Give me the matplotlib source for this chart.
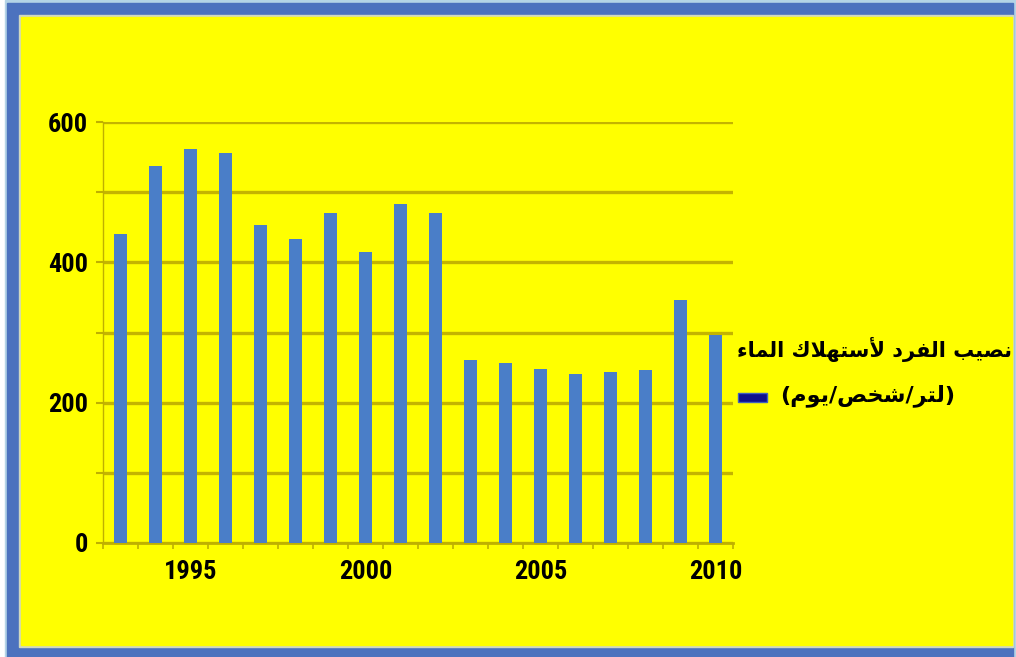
import matplotlib
matplotlib.use('Agg')
import matplotlib.pyplot as plt
import matplotlib.patches as mpatches
import numpy as np

# datos
years = list(range(1993, 2011))
consumo = [440, 538, 561, 556, 453, 433, 470, 415, 483, 470,
           261, 256, 248, 241, 244, 247, 347, 297]
year_labels = ['1995', '2000', '2005', '2010']
y_ticks = [0, 100, 200, 300, 400, 500, 600]
y_labels = ['0', '', '200', '', '400', '', '600']
legend_line1 = 'نصيب الفرد لأستهلاك الماء'
legend_line2 = '(لتر/شخص/يوم)'

W, H = 1016, 657

# formas contextuales arabes: (aislada, final, inicial, media)
FORMS = {
    'ا': ('\uFE8D', '\uFE8E'), 'أ': ('\uFE83', '\uFE84'),
    'د': ('\uFEA9', '\uFEAA'), 'ر': ('\uFEAD', '\uFEAE'),
    'و': ('\uFEED', '\uFEEE'), 'ء': ('\uFE80',),
    'ب': ('\uFE8F', '\uFE90', '\uFE91', '\uFE92'),
    'ت': ('\uFE95', '\uFE96', '\uFE97', '\uFE98'),
    'خ': ('\uFEA5', '\uFEA6', '\uFEA7', '\uFEA8'),
    'س': ('\uFEB1', '\uFEB2', '\uFEB3', '\uFEB4'),
    'ش': ('\uFEB5', '\uFEB6', '\uFEB7', '\uFEB8'),
    'ص': ('\uFEB9', '\uFEBA', '\uFEBB', '\uFEBC'),
    'ف': ('\uFED1', '\uFED2', '\uFED3', '\uFED4'),
    'ك': ('\uFED9', '\uFEDA', '\uFEDB', '\uFEDC'),
    'ل': ('\uFEDD', '\uFEDE', '\uFEDF', '\uFEE0'),
    'م': ('\uFEE1', '\uFEE2', '\uFEE3', '\uFEE4'),
    'ن': ('\uFEE5', '\uFEE6', '\uFEE7', '\uFEE8'),
    'ه': ('\uFEE9', '\uFEEA', '\uFEEB', '\uFEEC'),
    'ي': ('\uFEF1', '\uFEF2', '\uFEF3', '\uFEF4'),
}
LIG = {'لا': ('\uFEFB', '\uFEFC'), 'لأ': ('\uFEF7', '\uFEF8')}


def shape(text):
    tokens = []
    i = 0
    while i < len(text):
        if text[i] == 'ل' and i + 1 < len(text) and text[i:i+2] in LIG:
            tokens.append(text[i:i+2])
            i += 2
        else:
            tokens.append(text[i])
            i += 1
    res = []
    for k, t in enumerate(tokens):
        prev = tokens[k-1] if k > 0 else None
        nxt = tokens[k+1] if k + 1 < len(tokens) else None
        prev_j = prev in FORMS and len(FORMS[prev]) == 4
        if t in LIG:
            res.append(LIG[t][1 if prev_j else 0])
            continue
        if t not in FORMS:
            res.append(t)
            continue
        f = FORMS[t]
        if len(f) == 1:
            res.append(f[0])
            continue
        next_j = len(f) == 4 and (nxt in FORMS or nxt in LIG)
        if prev_j and next_j:
            res.append(f[3])
        elif prev_j:
            res.append(f[1])
        elif next_j:
            res.append(f[2])
        else:
            res.append(f[0])
    s = ''.join(reversed(res))
    return s.translate(str.maketrans('()', ')('))


def fx(x):
    return x / W


def fy(y):
    return 1 - y / H


fig = plt.figure(figsize=(W / 100, H / 100), dpi=100, facecolor='white')

# marco azul y fondo amarillo
fig.add_artist(mpatches.Rectangle((fx(5), 0), 1 - fx(5), 1, transform=fig.transFigure,
                                  color='#B4D4E6', zorder=-10))
fig.add_artist(mpatches.Rectangle((fx(7), 0), fx(1013) - fx(7), fy(3), transform=fig.transFigure,
                                  color='#4C72BE', zorder=-9))
fig.add_artist(mpatches.Rectangle((fx(19), fy(647)), fx(1013) - fx(19), fy(15) - fy(647),
                                  transform=fig.transFigure, color='#D0D8C0', zorder=-8))
fig.add_artist(mpatches.Rectangle((fx(21), fy(645)), fx(1012) - fx(21), fy(17) - fy(645),
                                  transform=fig.transFigure, color='#FFFF00', zorder=-7))

ax = fig.add_axes([fx(103), fy(543), fx(733) - fx(103), fy(122) - fy(543)])
ax.set_facecolor('none')

x = np.arange(len(years))
ax.bar(x, consumo, 0.36, color='#4A7EC8', zorder=3)

ax.set_xlim(-0.5, len(years) - 0.5)
ax.set_ylim(0, 600)

olive = '#BFB000'
ax.set_yticks(y_ticks)
ax.set_yticklabels(y_labels)
ax.grid(True, axis='y', color='#C4B400', linewidth=2.4)
ax.set_axisbelow(True)

ax.set_xticks([years.index(int(l)) for l in year_labels])
ax.set_xticklabels(year_labels)
ax.set_xticks(np.arange(-0.5, len(years), 1), minor=True)

for s in ['top', 'right']:
    ax.spines[s].set_visible(False)
ax.spines['left'].set_color(olive)
ax.spines['left'].set_linewidth(1)
ax.spines['bottom'].set_color(olive)
ax.spines['bottom'].set_linewidth(2)

lab_font = ['Roboto Condensed', 'Roboto', 'DejaVu Sans']
ax.tick_params(axis='x', which='major', length=0, pad=12)
ax.tick_params(axis='x', which='minor', length=4, color=olive, width=1.2)
ax.tick_params(axis='y', length=5, color=olive, width=1.5, pad=6)
for t in ax.get_xticklabels() + ax.get_yticklabels():
    t.set_fontfamily(lab_font)
    t.set_fontweight('bold')
    t.set_fontsize(19)

# leyenda a la derecha
fig.text(fx(737), fy(349), shape(legend_line1), ha='left', va='center',
         fontsize=15, fontweight='bold', family='DejaVu Sans')
fig.add_artist(mpatches.Rectangle((fx(738), fy(402)), fx(767) - fx(738), fy(393) - fy(402),
                                  transform=fig.transFigure, facecolor='#10108C',
                                  edgecolor='#4060C0', linewidth=1))
fig.text(fx(780), fy(396), shape(legend_line2), ha='left', va='center',
         fontsize=16, fontweight='bold', family='DejaVu Sans')

fig.savefig('out.png', dpi=100, facecolor=fig.get_facecolor())
